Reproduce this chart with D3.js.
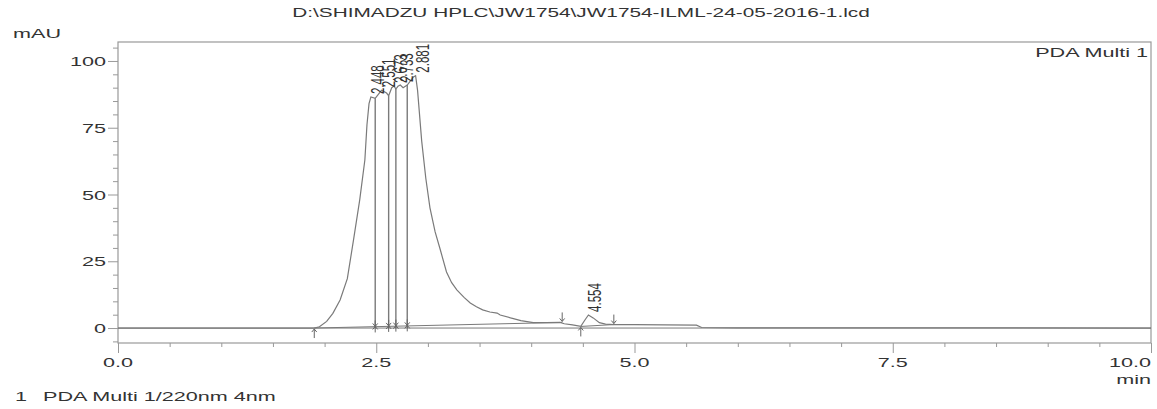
<!DOCTYPE html>
<html>
<head>
<meta charset="utf-8">
<script src="https://cdn.jsdelivr.net/npm/d3@7"></script>
<style>
  body { margin: 0; background: #fff; }
  svg { display: block; font-family: "Liberation Sans", Arial, sans-serif; }
</style>
</head>
<body>
<div id="root"></div>
<script>
// chromatogram trace (min, mAU)
const timeMin = [0, 1.9, 1.95, 2.02, 2.08, 2.15, 2.22, 2.28, 2.34, 2.39, 2.41, 2.43, 2.448, 2.49, 2.52, 2.551, 2.6, 2.62, 2.65, 2.673, 2.69, 2.71, 2.733, 2.76, 2.80, 2.86, 2.881, 2.90, 2.94, 2.98, 3.02, 3.07, 3.12, 3.18, 3.23, 3.28, 3.35, 3.41, 3.47, 3.53, 3.6, 3.67, 3.7, 3.8, 3.9, 4.02, 4.15, 4.28, 4.32, 4.4, 4.48, 4.52, 4.554, 4.6, 4.66, 4.72, 4.8, 5.0, 5.3, 5.6, 5.65, 6.0, 10.0];
const absMAU  = [0, 0, 0.5, 2.5, 5.5, 10.5, 18.5, 33, 48, 63, 76, 84, 86.5, 86, 87.5, 89, 88, 87, 90, 90.6, 89.5, 90.5, 91, 90, 91, 94, 94.5, 89, 70, 56, 45, 36, 29.3, 21, 17, 14.3, 11.5, 9.4, 8, 6.8, 6, 5.6, 4.9, 3.8, 2.8, 2, 2, 2.1, 1.6, 1.2, 0.6, 3, 4.9, 3.8, 2, 1.5, 1.3, 1.3, 1.2, 1.1, 0.2, 0.1, 0];

// integration baselines
const baseT = [[1.9, 4.3], [4.48, 4.8]];
const baseV = [[0, 2.1], [0.6, 1.3]];

// peaks
const peakRT = [2.448, 2.551, 2.673, 2.733, 2.881, 4.554];
const peakH  = [86.5, 89, 90.6, 91, 94.5, 4.9];
const peakLabel = ["2.448", "2.551", "2.673", "2.733", "2.881", "4.554"];

// drop lines between grouped peaks
const dropT = [2.49, 2.62, 2.69, 2.80];
const dropH = [86, 87, 89.5, 91];

// start/end markers
const markT   = [1.9, 2.49, 2.62, 2.69, 2.80, 4.30, 4.48, 4.80];
const markV   = [0, 0.6, 0.8, 0.9, 1.0, 2.1, 0.6, 1.3];
const markDir = ["up", "x", "x", "x", "x", "down", "up", "down"];

const xTicks = [0, 2.5, 5, 7.5, 10];
const xTickLabels = ["0.0", "2.5", "5.0", "7.5", "10.0"];
const yTicks = [0, 25, 50, 75, 100];

const W = 1157, H = 409;
const m = { left: 118, right: 6, top: 42, bottom: 66 };
const ink = "#333", line = "#7a7a7a", frame = "#999";
const SX = 1.6; // the source print is stretched sideways

const svg = d3.select("#root").append("svg").attr("width", W).attr("height", H);

const x = d3.scaleLinear().domain([0, 10]).range([m.left, W - m.right]);
const y = d3.scaleLinear().domain([-5.6, 107.1]).range([H - m.bottom, m.top]);

function label(px, py, txt, anchor, size) {
  return svg.append("text")
    .attr("transform", `translate(${px},${py}) scale(${SX},1)`)
    .attr("text-anchor", anchor || "start")
    .attr("font-size", size || 13.5).attr("fill", ink)
    .text(txt);
}

// frame
svg.append("rect")
  .attr("x", x(0)).attr("y", y(107.1))
  .attr("width", x(10) - x(0)).attr("height", y(-5.6) - y(107.1))
  .attr("fill", "none").attr("stroke", frame).attr("stroke-width", 1.2);

// x axis ticks
const xAxis = d3.axisBottom(x).tickValues(d3.range(0, 10.001, 0.5)).tickSize(4).tickFormat("");
svg.append("g").attr("transform", `translate(0,${y(-5.6)})`).call(xAxis)
  .call(g => g.select(".domain").remove())
  .call(g => g.selectAll("line").attr("stroke", frame))
  .call(g => g.selectAll(".tick").filter(d => xTicks.includes(+d.toFixed(1))).select("line").attr("y2", 10));

xTicks.forEach((d, i) => {
  label(x(d), y(-5.6) + 24, xTickLabels[i], i === xTicks.length - 1 ? "end" : "middle");
});
label(x(10), y(-5.6) + 41, "min", "end");

// y axis ticks
const yAxis = d3.axisLeft(y).tickValues(d3.range(-5, 106, 5)).tickSize(5).tickFormat("");
svg.append("g").attr("transform", `translate(${x(0)},0)`).call(yAxis)
  .call(g => g.select(".domain").remove())
  .call(g => g.selectAll("line").attr("stroke", frame))
  .call(g => g.selectAll(".tick").filter(d => yTicks.includes(d)).select("line").attr("x2", -10));

yTicks.forEach(d => {
  label(x(0) - 12, y(d) + 5, String(d), "end");
});

// zero line
svg.append("line")
  .attr("x1", x(0)).attr("x2", x(10)).attr("y1", y(0)).attr("y2", y(0))
  .attr("stroke", line).attr("stroke-width", 1);

// integration baselines
baseT.forEach((t, i) => {
  svg.append("line")
    .attr("x1", x(t[0])).attr("x2", x(t[1])).attr("y1", y(baseV[i][0])).attr("y2", y(baseV[i][1]))
    .attr("stroke", line).attr("stroke-width", 1);
});

// drop lines
svg.append("g").selectAll("line").data(dropT).join("line")
  .attr("x1", d => x(d)).attr("x2", d => x(d))
  .attr("y1", y(0)).attr("y2", (d, i) => y(dropH[i]))
  .attr("stroke", line).attr("stroke-width", 1.4);

// trace
const trace = timeMin.map((t, i) => [t, absMAU[i]]);
svg.append("path").datum(trace)
  .attr("d", d3.line().x(d => x(d[0])).y(d => y(d[1])))
  .attr("fill", "none").attr("stroke", line).attr("stroke-width", 1.2);

// markers
const mk = svg.append("g").attr("stroke", "#666").attr("fill", "none").attr("stroke-width", 1);
markT.forEach((t, i) => {
  const cx = x(t), cy = y(markV[i]), dir = markDir[i];
  if (dir === "up") {
    mk.append("path").attr("d", `M${cx},${cy + 10}V${cy + 1}M${cx - 2.5},${cy + 4}L${cx},${cy + 1}L${cx + 2.5},${cy + 4}`);
  } else if (dir === "down") {
    mk.append("path").attr("d", `M${cx},${cy - 10}V${cy - 1}M${cx - 2.5},${cy - 4}L${cx},${cy - 1}L${cx + 2.5},${cy - 4}`);
  } else {
    mk.append("path").attr("d", `M${cx},${cy - 6}V${cy + 6}M${cx - 2.5},${cy - 3}L${cx + 2.5},${cy + 3}M${cx - 2.5},${cy + 3}L${cx + 2.5},${cy - 3}`);
  }
});

// peak labels (vertical)
svg.append("g").selectAll("text").data(peakRT).join("text")
  .attr("transform", (d, i) => `translate(${x(d) + 13},${y(peakH[i]) - 3}) scale(${SX},1) rotate(-90)`)
  .attr("font-size", 11.5).attr("fill", ink)
  .text((d, i) => peakLabel[i]);

// texts
label(581, 17, "D:\\SHIMADZU HPLC\\JW1754\\JW1754-ILML-24-05-2016-1.lcd", "middle", 13);
label(13, 38, "mAU");
label(x(10) - 3, 57, "PDA Multi 1", "end");
label(15, 401, "1");
label(43, 401, "PDA Multi 1/220nm 4nm");
</script>
</body>
</html>
